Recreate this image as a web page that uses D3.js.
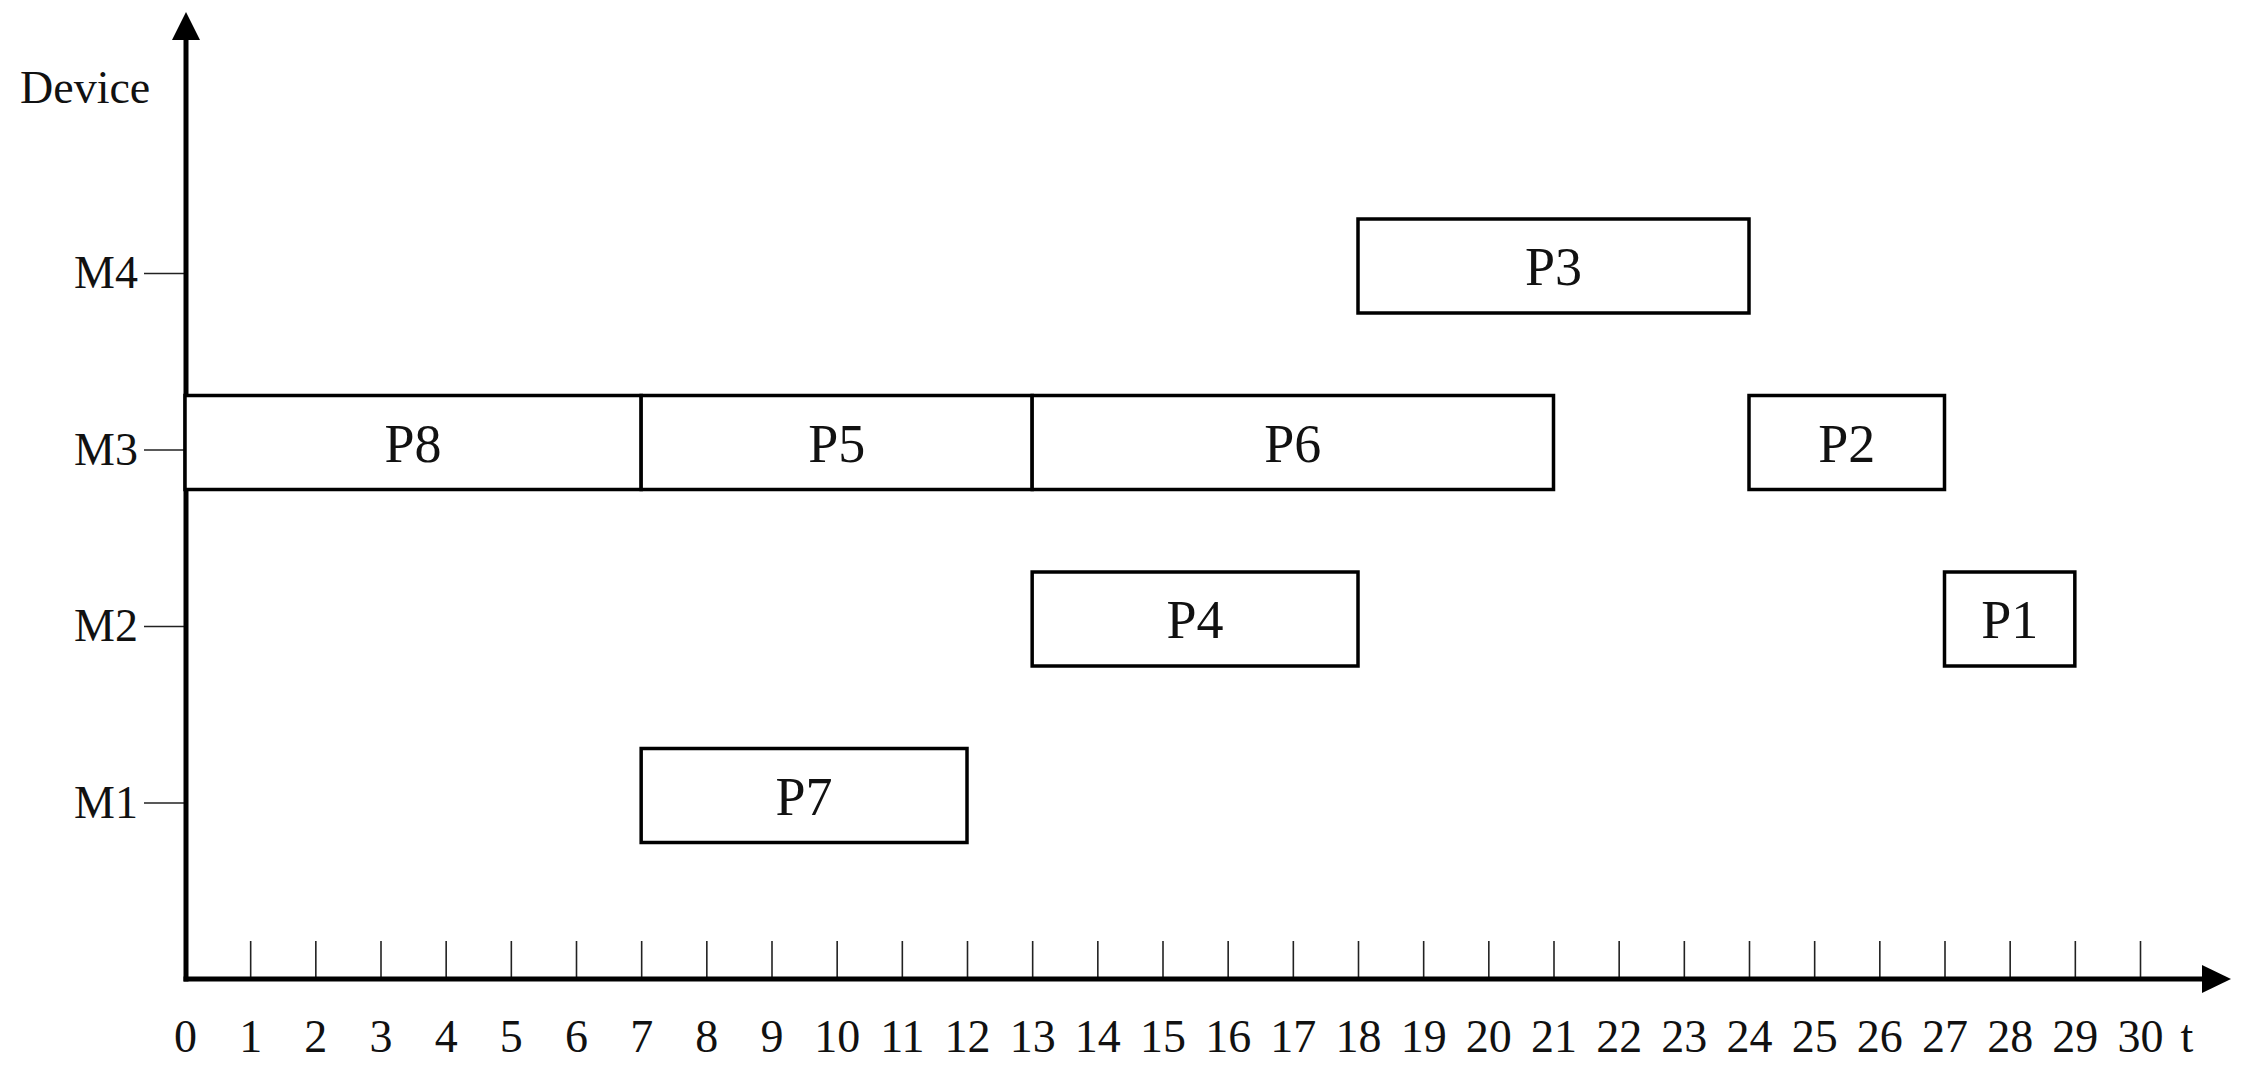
<!DOCTYPE html>
<html>
<head>
<meta charset="utf-8">
<script src="https://cdn.jsdelivr.net/npm/d3@7"></script>
<style>
  html, body { margin: 0; padding: 0; background: #fff; }
  svg { display: block; }
  text { font-family: "Liberation Serif", "Times New Roman", serif; fill: #111; }
</style>
</head>
<body>
<svg id="chart" width="2253" height="1077"></svg>
<script>
// ---- data ----
const devices = ["M1", "M2", "M3", "M4"];
const deviceLevels = [1, 2, 3, 4];
const timeTicks = d3.range(0, 31);
const taskNames = ["P8", "P5", "P6", "P2", "P3", "P4", "P1", "P7"];
const taskDevice = ["M3", "M3", "M3", "M3", "M4", "M2", "M2", "M1"];
const taskStart = [0, 7, 13, 24, 18, 13, 27, 7];
const taskEnd = [7, 13, 21, 27, 24, 18, 29, 12];
const yAxisTitle = "Device";
const xAxisTitle = "t";

// ---- layout ----
const svg = d3.select("#chart");
const x = d3.scaleLinear().domain([0, 30]).range([185, 2140]);
const y = d3.scaleLinear().domain([0, 4]).range([979, 273]);
const boxH = 94;
const boxOffset = -7;

const tasks = taskNames.map((n, i) => ({
  name: n, level: deviceLevels[devices.indexOf(taskDevice[i])],
  start: taskStart[i], end: taskEnd[i]
}));

// x axis ticks
const xAxis = d3.axisBottom(x)
  .tickValues(timeTicks)
  .tickFormat(d3.format("d"))
  .tickSizeInner(-38)
  .tickSizeOuter(0)
  .tickPadding(0);
const gx = svg.append("g").attr("transform", `translate(0,${y(0)})`).call(xAxis);
gx.select(".domain").remove();
gx.selectAll(".tick line").attr("stroke", "#222").attr("stroke-width", 1.6)
  .filter(d => d === 0).remove();
gx.selectAll(".tick text")
  .attr("y", 73).attr("dy", null)
  .attr("font-size", 46)
  .attr("font-family", "Liberation Serif")
  .attr("fill", "#111");

// y axis ticks
const yAxis = d3.axisLeft(y)
  .tickValues(deviceLevels)
  .tickFormat(d => devices[deviceLevels.indexOf(d)])
  .tickSizeInner(42)
  .tickSizeOuter(0)
  .tickPadding(6);
const gy = svg.append("g").attr("transform", `translate(${x(0) + 1},0)`).call(yAxis);
gy.select(".domain").remove();
gy.selectAll(".tick line").attr("stroke", "#222").attr("stroke-width", 1.6);
gy.selectAll(".tick text")
  .attr("font-size", 46)
  .attr("font-family", "Liberation Serif")
  .attr("fill", "#111");

// main axis lines with arrows
const ax0 = x(0) + 1;
svg.append("line")
  .attr("x1", ax0 - 2.5).attr("x2", 2205)
  .attr("y1", y(0)).attr("y2", y(0))
  .attr("stroke", "#000").attr("stroke-width", 5);
svg.append("path")
  .attr("d", `M2202,${y(0) - 14} L2231,${y(0)} L2202,${y(0) + 14} Z`)
  .attr("fill", "#000");
svg.append("line")
  .attr("x1", ax0).attr("x2", ax0)
  .attr("y1", y(0) + 2.5).attr("y2", 36)
  .attr("stroke", "#000").attr("stroke-width", 5);
svg.append("path")
  .attr("d", `M${ax0 - 14},40 L${ax0},12 L${ax0 + 14},40 Z`)
  .attr("fill", "#000");

// axis titles
svg.append("text").attr("x", 20).attr("y", 103)
  .attr("font-size", 46).text(yAxisTitle);
svg.append("text").attr("x", 2187).attr("y", y(0) + 73)
  .attr("text-anchor", "middle").attr("font-size", 46).text(xAxisTitle);

// task boxes
const g = svg.append("g");
g.selectAll("rect").data(tasks).join("rect")
  .attr("x", d => x(d.start))
  .attr("y", d => y(d.level) + boxOffset - boxH / 2)
  .attr("width", d => x(d.end) - x(d.start))
  .attr("height", boxH)
  .attr("fill", "#fff")
  .attr("stroke", "#000")
  .attr("stroke-width", 3.5);
g.selectAll("text").data(tasks).join("text")
  .attr("x", d => (x(d.start) + x(d.end)) / 2)
  .attr("y", d => y(d.level) + boxOffset + 19)
  .attr("text-anchor", "middle")
  .attr("font-size", 54)
  .text(d => d.name);
</script>
</body>
</html>
